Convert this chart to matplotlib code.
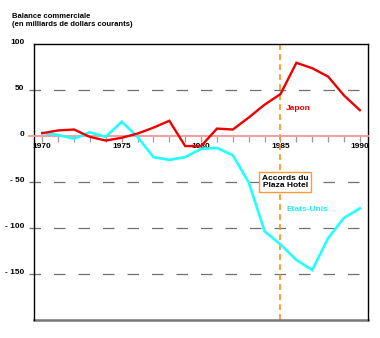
import matplotlib
matplotlib.use("Agg")
import matplotlib.pyplot as plt
from matplotlib.lines import Line2D

years = list(range(1970, 1991))
japon = [3, 6, 7, -1, -5, -2, 2.6, 9, 16.5, -11, -11, 8, 7, 20, 34, 45.5, 79.5, 73.6, 64.5, 44, 28]
etats_unis = [3.3, 1, -3, 4, -1, 15.5, -1, -23, -26, -23, -14, -13, -21, -50.5, -103.6, -118, -134.7, -145.7, -111, -89, -78.7]
ytick_vals = [100, 50, 0, -50, -100, -150]
ytick_labels = ["100", "50", "0", "- 50", "- 100", "- 150"]
xtick_labels = [1970, 1975, 1980, 1985, 1990]
grid_vals = [50, -50, -100, -150]
event_year = 1985

plt.rcParams['font.family'] = ['Liberation Sans', 'DejaVu Sans']

fig = plt.figure(figsize=(3.8, 3.38), dpi=100)
ax = fig.add_axes([0.0882, 0.0533, 0.8798, 0.8167])
ax.set_xlim(1969.45, 1990.5)
ax.set_ylim(-200, 100)

for g in grid_vals:
    ax.axhline(g, color='#707070', lw=0.9, dashes=(9.2, 10.4), zorder=1, xmin=-0.015, clip_on=False)
ax.axhline(0, color='#f4a0a0', lw=1.3, zorder=1, xmin=-0.015, clip_on=False)

ax.axvline(event_year, color='#ff8c1a', lw=1.2, dashes=(3.5, 2.5), zorder=2)

ax.plot(years, etats_unis, color='#22ffff', lw=1.9, zorder=3, solid_joinstyle='miter')
ax.plot(years, japon, color='#ee0000', lw=1.7, zorder=4, solid_joinstyle='miter')

# spines
for s in ['top', 'right', 'left']:
    ax.spines[s].set_color('black')
    ax.spines[s].set_linewidth(1.0)
ax.spines['bottom'].set_position(('data', 0))
ax.spines['bottom'].set_color('#f4a0a0')
ax.spines['bottom'].set_linewidth(1.3)
ax.add_line(Line2D([0, 1], [0, 0], transform=ax.transAxes, color='#777777', lw=1.8, clip_on=False))

ax.set_xticks(years)
ax.set_xticklabels([str(y) if y in xtick_labels else "" for y in years],
                   fontsize=6, fontweight='bold')
ax.tick_params(axis='x', direction='out', length=4, width=0.9, color='#999999', pad=1)

ax.set_yticks(ytick_vals)
ax.set_yticklabels(ytick_labels, fontsize=6, fontweight='bold')
ax.tick_params(axis='y', length=0, pad=6.5)
for lab in ax.get_yticklabels():
    lab.set_verticalalignment('baseline')

ax.text(1985.35, 30, "Japon", color='#ee0000', fontsize=6, fontweight='bold', va='center', ha='left')
ax.text(1985.35, -80, "Etats-Unis", color='#22eeee', fontsize=6, fontweight='bold', va='center', ha='left')
ax.text(1985.3, -50, "Accords du\nPlaza Hotel", color='black', fontsize=6, fontweight='bold',
        ha='center', va='center', linespacing=1.1, zorder=5,
        bbox=dict(boxstyle='square,pad=0.35', fc='white', ec='#ff9933', lw=1.0))

fig.text(0.032, 0.962, "Balance commerciale\n(en milliards de dollars courants)", fontsize=5.5,
         fontweight='bold', ha='left', va='top', linespacing=1.2)

fig.savefig("out.png", dpi=100)
